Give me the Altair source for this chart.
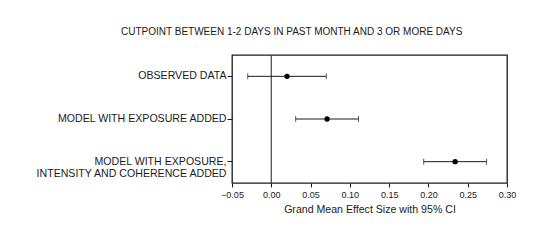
import altair as alt
import pandas as pd

labels = ["OBSERVED DATA", "MODEL WITH EXPOSURE ADDED", "MODEL WITH EXPOSURE,|INTENSITY AND COHERENCE ADDED"]
means = [0.020, 0.071, 0.234]
lows = [-0.030, 0.031, 0.194]
highs = [0.070, 0.111, 0.274]
x_ticks = [-0.05, 0.00, 0.05, 0.10, 0.15, 0.20, 0.25, 0.30]

df = pd.DataFrame({"label": labels, "mean": means, "lo": lows, "hi": highs})
zero = pd.DataFrame({"z": [0.0]})

FONT = "Liberation Sans"
INK = "#1a1a1a"

xscale = alt.Scale(domain=[-0.05, 0.30], nice=False, zero=False)
yenc = alt.Y(
    "label:N",
    sort=labels,
    scale=alt.Scale(paddingInner=0, paddingOuter=0),
    axis=alt.Axis(
        title=None,
        labelExpr="split(datum.label, '|')",
        labelFontSize=10.6,
        labelFont=FONT,
        labelColor=INK,
        labelLineHeight=12.6,
        labelPadding=1,
        tickSize=5,
        tickColor=INK,
        domain=False,
        grid=False,
        labelLimit=400,
    ),
)
xaxis = alt.Axis(
    title="Grand Mean Effect Size with 95% CI",
    values=x_ticks,
    format=".2f",
    labelFontSize=9,
    labelFont=FONT,
    labelColor=INK,
    labelOverlap=False,
    labelFlush=False,
    titleFontSize=10.6,
    titleFont=FONT,
    titleColor=INK,
    titleFontWeight="normal",
    titlePadding=5,
    tickSize=4,
    tickColor=INK,
    labelPadding=3,
    domain=False,
    grid=False,
)

zero_rule = alt.Chart(zero).mark_rule(color="#444444", strokeWidth=1.2).encode(
    x=alt.X("z:Q", scale=xscale, axis=xaxis)
)
bars = alt.Chart(df).mark_rule(color=INK, strokeWidth=1).encode(
    x=alt.X("lo:Q", scale=xscale, axis=xaxis), x2="hi:Q", y=yenc
)
cap_lo = alt.Chart(df).mark_tick(color=INK, orient="vertical", size=6, thickness=1).encode(
    x=alt.X("lo:Q", scale=xscale, axis=xaxis), y=yenc
)
cap_hi = alt.Chart(df).mark_tick(color=INK, orient="vertical", size=6, thickness=1).encode(
    x=alt.X("hi:Q", scale=xscale, axis=xaxis), y=yenc
)
pts = alt.Chart(df).mark_point(filled=True, color="#000000", size=28, opacity=1).encode(
    x=alt.X("mean:Q", scale=xscale, axis=xaxis), y=yenc
)

chart = (
    alt.layer(zero_rule, bars, cap_lo, cap_hi, pts)
    .properties(
        width=275,
        height=128,
        padding={"left": 26, "top": 19, "right": 5, "bottom": 5},
        background="white",
        title=alt.TitleParams(
            "CUTPOINT BETWEEN 1-2 DAYS IN PAST MONTH AND 3 OR MORE DAYS",
            anchor="start",
            frame="group",
            dx=-111,
            fontSize=10,
            font=FONT,
            fontWeight="normal",
            color=INK,
            offset=17,
        ),
    )
    .configure_view(stroke=INK, strokeWidth=1.3)
    .configure_axisX(labelOverlap=False)
)

chart.save("out.html", embed_options={"renderer": "svg", "actions": False})
